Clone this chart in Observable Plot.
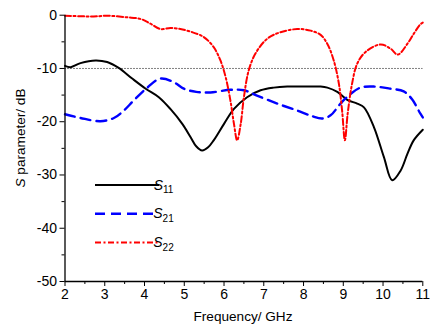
<!DOCTYPE html>
<html>
<head>
<meta charset="utf-8">
<script src="https://cdn.jsdelivr.net/npm/d3@7"></script>
<script src="https://cdn.jsdelivr.net/npm/@observablehq/plot@0.6"></script>
<style>
  html, body { margin: 0; padding: 0; background: #fff; }
  svg { display: block; }
</style>
</head>
<body>
<div id="chart"></div>
<script>
// ---- data ----
const seriesNames = ["S11", "S21", "S22"];
const seriesSubs = ["11", "21", "22"];

const s11Freq = [2.0, 2.14, 2.39, 2.77, 3.06, 3.35, 3.69, 4.03, 4.36, 4.65, 4.95, 5.16, 5.3, 5.45, 5.6, 5.74, 6.0, 6.25, 6.58, 6.92, 7.25, 7.59, 8.0, 8.43, 8.6, 8.85, 9.1, 9.35, 9.52, 9.77, 10.02, 10.23, 10.44, 10.61, 10.77, 11.0];
const s11Val = [-9.5, -9.75, -9.0, -8.5, -8.8, -9.9, -11.9, -13.8, -15.4, -17.6, -20.4, -22.9, -24.6, -25.4, -24.8, -23.5, -20.4, -17.6, -15.4, -14.1, -13.6, -13.4, -13.4, -13.4, -13.6, -14.4, -15.9, -16.6, -17.3, -21.0, -26.6, -31.0, -29.2, -26.1, -23.5, -21.5];

const s21Freq = [2.0, 2.39, 2.89, 3.23, 3.48, 3.73, 4.07, 4.4, 4.74, 4.99, 5.3, 5.66, 6.16, 6.5, 6.83, 7.34, 7.84, 8.2, 8.47, 8.68, 8.93, 9.18, 9.43, 9.77, 10.19, 10.52, 10.73, 10.94, 11.0];
const s21Val = [-18.6, -19.3, -19.9, -19.3, -17.9, -16.0, -13.6, -11.9, -12.6, -13.8, -14.4, -14.5, -14.0, -14.1, -15.1, -16.6, -17.9, -18.9, -19.4, -18.8, -16.6, -14.8, -13.6, -13.4, -13.8, -14.3, -15.8, -18.5, -19.2];

const s22Freq = [2.0, 2.4, 2.72, 3.06, 3.56, 3.9, 4.15, 4.4, 4.65, 4.9, 5.16, 5.49, 5.74, 5.91, 6.04, 6.16, 6.25, 6.33, 6.42, 6.5, 6.62, 6.79, 7.09, 7.42, 7.84, 8.18, 8.43, 8.6, 8.76, 8.89, 8.97, 9.04, 9.11, 9.22, 9.35, 9.56, 9.94, 10.19, 10.37, 10.61, 10.77, 10.94, 11.0];
const s22Val = [-0.1, -0.2, -0.25, -0.1, -0.4, -0.7, -1.6, -2.6, -2.4, -2.6, -3.1, -4.1, -6.0, -8.5, -11.6, -16.0, -20.4, -23.5, -20.4, -15.4, -10.4, -7.2, -4.4, -3.2, -2.6, -2.9, -3.7, -5.4, -8.5, -12.9, -17.9, -23.5, -18.5, -12.9, -9.1, -6.9, -5.5, -6.3, -7.4, -5.4, -3.5, -1.7, -1.4];

const xMajor = [2, 3, 4, 5, 6, 7, 8, 9, 10, 11];
const xMinor = [2.5, 3.5, 4.5, 5.5, 6.5, 7.5, 8.5, 9.5, 10.5];
const yMajor = [0, -10, -20, -30, -40, -50];
const yMinor = [-5, -15, -25, -35, -45];
const refLevel = [-10];

// ---- styles ----
const styles = {
  S11: {stroke: "#000000", strokeWidth: 2, dash: null},
  S21: {stroke: "#0000ff", strokeWidth: 2.4, dash: "10,6"},
  S22: {stroke: "#ff0000", strokeWidth: 2, dash: "6,2.5,2,2.5"}
};

const toRows = (fs, vs) => fs.map((f, i) => ({f, v: vs[i]}));
const rows = {
  S11: toRows(s11Freq, s11Val),
  S21: toRows(s21Freq, s21Val),
  S22: toRows(s22Freq, s22Val)
};

const font = "'Liberation Sans', Arial, Helvetica, sans-serif";

const lineMarks = seriesNames.map(name => Plot.line(rows[name], {
  x: "f", y: "v",
  stroke: styles[name].stroke,
  strokeWidth: styles[name].strokeWidth,
  strokeDasharray: styles[name].dash,
  curve: "catmull-rom"
}));

const chart = Plot.plot({
  width: 439,
  height: 331,
  marginLeft: 64.5,
  marginRight: 16.7,
  marginTop: 14.7,
  marginBottom: 50,
  style: {fontFamily: font, background: "#fff", color: "#000", overflow: "visible"},
  x: {domain: [2, 11]},
  y: {domain: [-50, 0]},
  marks: [
    Plot.ruleY(refLevel, {stroke: "#000", strokeWidth: 1, strokeDasharray: "1,2"}),
    ...lineMarks,
    Plot.axisX(xMajor, {anchor: "bottom", tickSize: 5, tickPadding: 3, fontSize: 14, label: null, tickFormat: d => String(d)}),
    Plot.axisX(xMinor, {anchor: "bottom", tickSize: 3, label: null, tickFormat: () => ""}),
    Plot.axisY(yMajor, {anchor: "left", tickSize: 5, tickPadding: 3, fontSize: 14, label: null, tickFormat: d => String(d)}),
    Plot.axisY(yMinor, {anchor: "left", tickSize: 3, label: null, tickFormat: () => ""}),
    Plot.ruleX([2], {stroke: "#000", strokeWidth: 1.3}),
    Plot.ruleY([-50], {stroke: "#000", strokeWidth: 1.3})
  ]
});

document.getElementById("chart").appendChild(chart);

// ---- labels & legend ----
const svg = d3.select(chart);

// y axis label
const yl = svg.append("text")
  .attr("transform", "translate(25,138) rotate(-90)")
  .attr("text-anchor", "middle")
  .attr("font-family", font)
  .attr("font-size", 13.6)
  .attr("fill", "#000");
yl.append("tspan").attr("font-style", "italic").text("S");
yl.append("tspan").text(" parameter/ dB");

// x axis label
svg.append("text")
  .attr("x", 243)
  .attr("y", 321)
  .attr("text-anchor", "middle")
  .attr("font-family", font)
  .attr("font-size", 13.6)
  .attr("fill", "#000")
  .text("Frequency/ GHz");

// legend
const legX1 = 95, legX2 = 159, legTextX = 163.5, legY0 = 185, legDy = 28.7;
seriesNames.forEach((name, i) => {
  const y = legY0 + i * legDy;
  svg.append("line")
    .attr("x1", legX1).attr("x2", legX2)
    .attr("y1", y).attr("y2", y)
    .attr("stroke", styles[name].stroke)
    .attr("stroke-width", styles[name].strokeWidth)
    .attr("stroke-dasharray", styles[name].dash);
  const t = svg.append("text")
    .attr("x", legTextX)
    .attr("y", y + 4.5)
    .attr("font-family", font)
    .attr("font-size", 14)
    .attr("fill", "#000");
  t.append("tspan").attr("font-style", "italic").text("S");
  t.append("tspan").attr("font-size", 10).attr("dy", 3.8).text(seriesSubs[i]);
});
</script>
</body>
</html>
